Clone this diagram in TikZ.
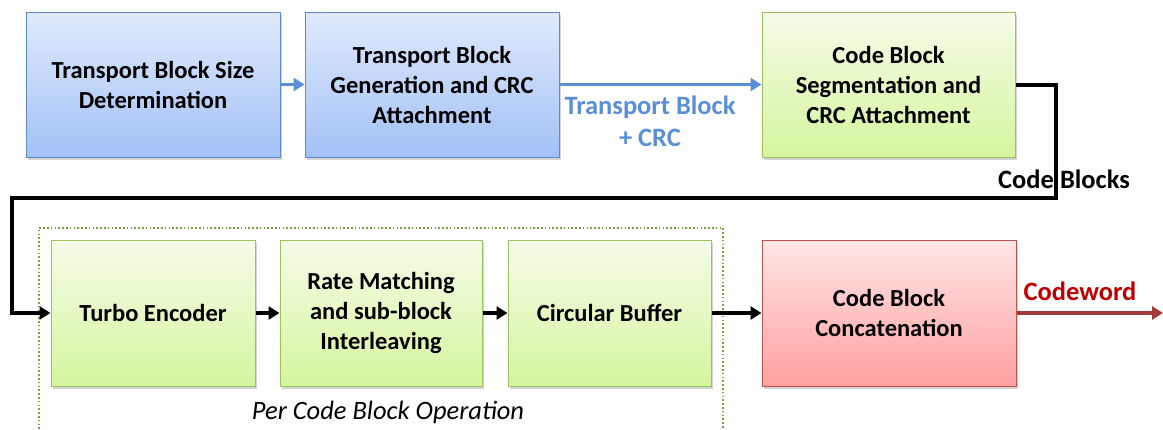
\documentclass[tikz,border=0pt]{standalone}
\usepackage{fontspec}
\setmainfont{Carlito}
\usetikzlibrary{arrows.meta,shadows,positioning}

\definecolor{blueTop}{HTML}{E0EAFC}
\definecolor{blueBot}{HTML}{A2C1F6}
\definecolor{blueLine}{HTML}{5B8AD0}
\definecolor{blueArrow}{HTML}{5A8FD8}
\definecolor{greenTop}{HTML}{F5FCE8}
\definecolor{greenBot}{HTML}{D5F59E}
\definecolor{greenLine}{HTML}{9CC35C}
\definecolor{redTop}{HTML}{FFE6E6}
\definecolor{redBot}{HTML}{FFA0A0}
\definecolor{redLine}{HTML}{C0504D}
\definecolor{dotGreen}{HTML}{76A33A}
\definecolor{cwText}{HTML}{C00000}
\definecolor{cwArrow}{HTML}{A33B3B}

\tikzset{
  blk/.style={rectangle, line width=1pt, align=center,
    font=\fontsize{24.5}{30}\selectfont\bfseries, inner sep=2pt,
    drop shadow={opacity=0.35, shadow xshift=2pt, shadow yshift=-2.5pt}},
  bluebox/.style={blk, draw=blueLine, top color=blueTop, bottom color=blueBot,
    minimum width=254pt, minimum height=145pt},
  greenbox/.style={blk, draw=greenLine, top color=greenTop, bottom color=greenBot,
    minimum height=146pt},
  redbox/.style={blk, draw=redLine, top color=redTop, bottom color=redBot,
    minimum width=254pt, minimum height=146pt},
  bluearrow/.style={draw=blueArrow, line width=3.2pt,
    -{Triangle[length=11pt,width=13pt]}},
  blackarrow/.style={draw=black, line width=3.5pt,
    -{Triangle[length=11pt,width=13pt]}},
  lbl/.style={font=\fontsize{26.5}{32}\selectfont\bfseries, align=center, inner sep=0pt},
}

\begin{document}
\begin{tikzpicture}[x=1pt, y=-1pt]
  \useasboundingbox (0,0) rectangle (1163,429);

  % per code block group frame (open at the bottom)
  \draw[dotGreen, line width=1.6pt, dash pattern=on 1.6pt off 2.2pt]
    (39,429) -- (39,228) -- (723,228) -- (723,429);
  \node[font=\fontsize{26.5}{30}\selectfont\itshape, inner sep=0pt] (grp) at (388,412)
    {Per Code Block Operation};

  % upper row
  \node[bluebox] (tbs) at (153,84.5) {Transport Block Size\\Determination};
  \node[bluebox] (tbg) at (432,84.5) {Transport Block\\Generation and CRC\\Attachment};
  \node[greenbox, minimum width=253pt, minimum height=145pt] (seg) at (888.5,84.5)
    {Code Block\\Segmentation and\\CRC Attachment};

  % lower row
  \node[greenbox, minimum width=204pt] (turbo) at (153,313) {Turbo Encoder};
  \node[greenbox, minimum width=202pt] (rate) at (381,313) {Rate Matching\\and sub-block\\Interleaving};
  \node[greenbox, minimum width=203pt] (circ) at (609.5,313) {Circular Buffer};
  \node[redbox] (concat) at (889,313) {Code Block\\Concatenation};

  % upper connectors
  \draw[bluearrow] (tbs) -- (tbg);
  \draw[bluearrow] (tbg.east |- 0,84.5) -- (seg.west |- 0,84.5);
  \node[lbl, text=blueArrow] (tbcrc) at (650,121) {Transport Block\\+ CRC};

  % wrap-around line carrying the code blocks
  \coordinate (w1) at (1056,84.5);
  \coordinate (w2) at (1056,198);
  \coordinate (w3) at (12,198);
  \coordinate (w4) at (12,313);
  \draw[blackarrow, line width=4pt, line join=miter] (seg.east |- w1) -- (w1) -- (w2) -- (w3) -- (w4) -- (turbo.west);
  \node[lbl] (cb) at (1064,179) {Code Blocks};

  % lower connectors
  \draw[blackarrow] (turbo) -- (rate);
  \draw[blackarrow] (rate) -- (circ);
  \draw[blackarrow] (circ) -- (concat);

  % output
  \coordinate (out) at (1163,313);
  \draw[draw=cwArrow, line width=3.5pt, -{Triangle[length=11pt,width=13pt]}] (concat) -- (out);
  \node[lbl, text=cwText] (cw) at (1080,291) {Codeword};
\end{tikzpicture}
\end{document}
